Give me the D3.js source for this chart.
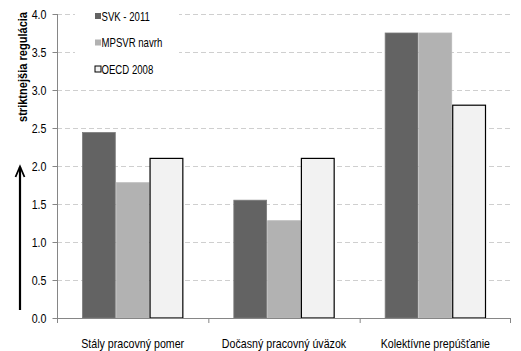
<!DOCTYPE html>
<html><head><meta charset="utf-8">
<script src="https://cdn.jsdelivr.net/npm/d3@7"></script>
<style>
html,body{margin:0;padding:0;background:#fff;}
svg text{font-family:"Liberation Sans",Arial,sans-serif;}
</style></head>
<body>
<svg id="c" width="521" height="351"></svg>
<script>
const categories = ["Stály pracovný pomer", "Dočasný pracovný úväzok", "Kolektívne prepúšťanie"];
const seriesNames = ["SVK - 2011", "MPSVR navrh", "OECD 2008"];
const svk2011 = [2.44, 1.55, 3.75];
const mpsvr = [1.78, 1.28, 3.75];
const oecd2008 = [2.10, 2.10, 2.80];
const yTicks = [0, 0.5, 1.0, 1.5, 2.0, 2.5, 3.0, 3.5, 4.0];
const yTitle = "striktnejšia regulácia";

const seriesValues = [svk2011, mpsvr, oecd2008];
const fills = ["#636363", "#b2b2b2", "#f2f2f2"];
const strokes = ["#7a7a7a", "#b8b8b8", "#000"];
const SX = 0.82;

const svg = d3.select("#c");
const x = d3.scaleBand().domain(categories).range([57, 511]).padding(0);
const xi = d3.scaleBand().domain(seriesNames).range([0, x.bandwidth()]).paddingInner(0).paddingOuter(0.74);
const y = d3.scaleLinear().domain([0, 4]).range([318, 14]);

function condense(sel, sx) {
  sel.each(function() {
    const t = d3.select(this);
    const tx = +t.attr("x") || 0;
    t.attr("x", 0).attr("transform", `translate(${tx},0) scale(${sx},1)`);
  });
}

// gridlines
svg.append("g").selectAll("line").data(yTicks.filter(d => d > 0)).join("line")
  .attr("x1", 57).attr("x2", 511)
  .attr("y1", d => y(d) + 0.5).attr("y2", d => y(d) + 0.5)
  .attr("stroke", "#cfcfcf").attr("stroke-width", 1).attr("stroke-dasharray", "5,3");

// legend background (hides gridlines)
svg.append("rect").attr("x", 75).attr("y", 0).attr("width", 104).attr("height", 80).attr("fill", "#fff");

// bars
const rows = [];
categories.forEach((c, i) => seriesNames.forEach((s, j) => rows.push({c, s, j, v: seriesValues[j][i]})));
svg.append("g").selectAll("rect").data(rows).join("rect")
  .attr("x", d => x(d.c) + xi(d.s) + 0.5)
  .attr("y", d => y(d.v))
  .attr("width", xi.bandwidth() - 1)
  .attr("height", d => y(0) - y(d.v))
  .attr("fill", d => fills[d.j])
  .attr("stroke", d => strokes[d.j])
  .attr("stroke-width", d => d.j === 2 ? 1.2 : 0.8);

// y axis
const yAxis = d3.axisLeft(y).tickValues(yTicks).tickFormat(d3.format(".1f")).tickSize(5).tickPadding(6);
const gy = svg.append("g").attr("transform", "translate(57.5,0)").call(yAxis);
gy.select(".domain").attr("stroke", "#868686").attr("d", `M0,${y(4)}V${y(0)}`);
gy.selectAll(".tick line").attr("stroke", "#868686");
gy.selectAll(".tick text").attr("font-size", 13).attr("fill", "#000")
  .attr("font-family", '"Liberation Sans",Arial,sans-serif').call(condense, SX);

// x axis
const xAxis = d3.axisBottom(x).tickSize(0).tickPadding(20);
const gx = svg.append("g").attr("transform", "translate(0,318.5)").call(xAxis);
gx.select(".domain").attr("stroke", "#868686").attr("d", "M57,0H511");
gx.selectAll(".tick text").attr("font-size", 13).attr("fill", "#000")
  .attr("font-family", '"Liberation Sans",Arial,sans-serif').call(condense, SX);
// category boundary ticks
svg.append("g").selectAll("line").data(categories.concat(["end"])).join("line")
  .attr("x1", (d, i) => i < categories.length ? x(d) + 0.5 : x.range()[1] - 0.5)
  .attr("x2", (d, i) => i < categories.length ? x(d) + 0.5 : x.range()[1] - 0.5)
  .attr("y1", 318).attr("y2", 323).attr("stroke", "#868686");

// y title
svg.append("text").attr("transform", `translate(27,67) rotate(-90) scale(${SX},1)`)
  .attr("text-anchor", "middle").attr("font-size", 13.5).attr("font-weight", "bold")
  .text(yTitle);

// arrow
svg.append("path").attr("d", "M20,310V167").attr("stroke", "#000").attr("stroke-width", 2.2).attr("fill", "none");
svg.append("path").attr("d", "M15.5,177L20,166.5L24.5,177").attr("stroke", "#000").attr("stroke-width", 1.8).attr("fill", "none");

// legend
const lg = svg.append("g").selectAll("g").data(seriesNames).join("g")
  .attr("transform", (d, i) => `translate(95,${13 + i * 26.5})`);
lg.append("rect").attr("width", 6).attr("height", 6)
  .attr("fill", (d, i) => fills[i]).attr("stroke", (d, i) => i === 2 ? "#000" : "none");
lg.append("text").attr("x", 6.5).attr("y", 7.5).attr("font-size", 12).text(d => d).call(condense, 0.8);
</script>
</body></html>
